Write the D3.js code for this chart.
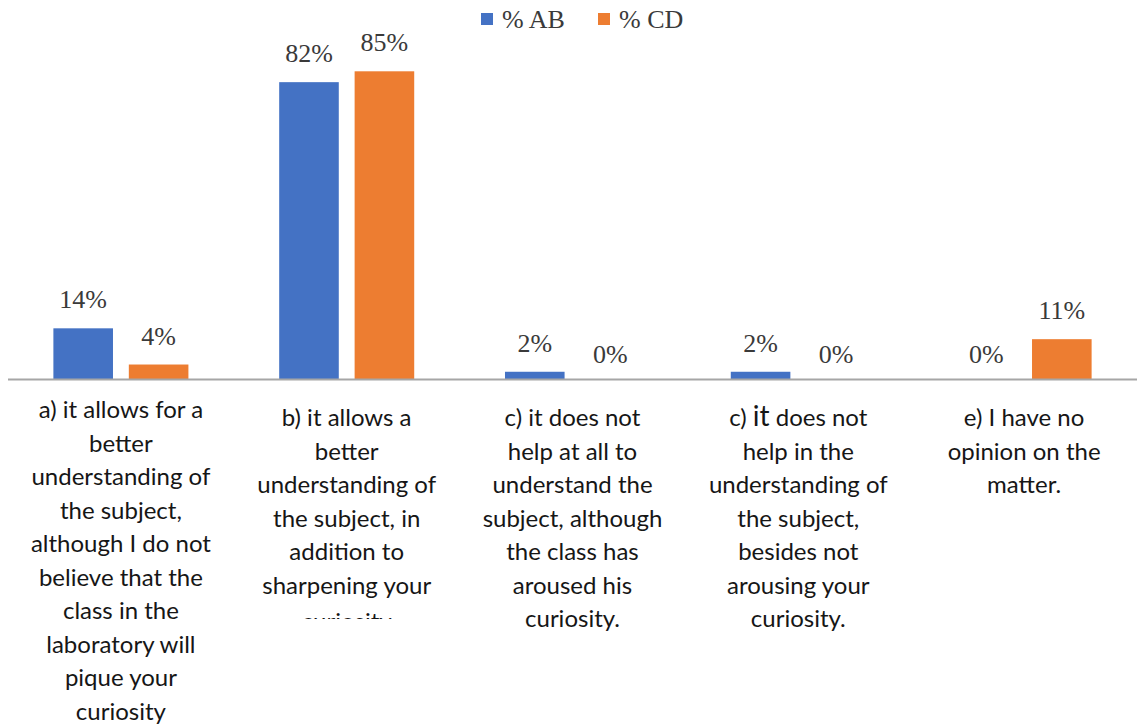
<!DOCTYPE html>
<html>
<head>
<meta charset="utf-8">
<script src="https://cdn.jsdelivr.net/npm/d3@7"></script>
<style>
  html, body { margin: 0; padding: 0; background: #ffffff; }
  svg { display: block; }
</style>
</head>
<body>
<svg id="chart" width="1146" height="727"></svg>
<script>
// Survey answers: share of respondents per option, for the two groups
const categories = ["a", "b", "c", "d", "e"];
const seriesNames = ["% AB", "% CD"];
const valuesAB = [14, 82, 2, 2, 0];
const valuesCD = [4, 85, 0, 0, 11];
const valueLabelsAB = ["14%", "82%", "2%", "2%", "0%"];
const valueLabelsCD = ["4%", "85%", "0%", "0%", "11%"];

// Wrapped answer texts under each group
const categoryLines = [
  ["a) it allows for a", "better", "understanding of", "the subject,", "although I do not", "believe that the", "class in the", "laboratory will", "pique your", "curiosity"],
  ["b) it allows a", "better", "understanding of", "the subject, in", "addition to", "sharpening your", "curiosity"],
  ["c) it does not", "help at all to", "understand the", "subject, although", "the class has", "aroused his", "curiosity."],
  ["c) it does not", "help in the", "understanding of", "the subject,", "besides not", "arousing your", "curiosity."],
  ["e) I have no", "opinion on the", "matter."]
];

const colors = { "% AB": "#4472C4", "% CD": "#ED7D31" };

const svg = d3.select("#chart");
const W = 1146, H = 727;
const baseY = 379;

const x = d3.scaleBand()
  .domain(categories)
  .range([8, 1137])
  .paddingInner(0.402)
  .paddingOuter(0.201);

const xs = d3.scaleBand()
  .domain(seriesNames)
  .range([0, x.bandwidth()])
  .paddingInner(0.21);

const y = d3.scaleLinear().domain([0, 100]).range([baseY, 17]);

const rows = categories.map((c, i) => ({
  cat: c,
  items: [
    { s: "% AB", v: valuesAB[i], label: valueLabelsAB[i] },
    { s: "% CD", v: valuesCD[i], label: valueLabelsCD[i] }
  ]
}));

const groups = svg.append("g").selectAll("g")
  .data(rows)
  .join("g")
  .attr("transform", d => `translate(${x(d.cat)},0)`);

groups.selectAll("rect")
  .data(d => d.items.filter(it => it.v > 0))
  .join("rect")
  .attr("x", d => xs(d.s))
  .attr("y", d => y(d.v))
  .attr("width", xs.bandwidth())
  .attr("height", d => y(0) - y(d.v))
  .attr("fill", d => colors[d.s]);

groups.selectAll("text.val")
  .data(d => d.items)
  .join("text")
  .attr("class", "val")
  .attr("x", d => xs(d.s) + xs.bandwidth() / 2)
  .attr("y", d => y(d.v) - (d.v > 0 ? 20 : 16))
  .attr("text-anchor", "middle")
  .attr("font-family", "'Liberation Serif', 'Times New Roman', serif")
  .attr("font-size", 26)
  .attr("fill", "#3a3a3a")
  .text(d => d.label);

// Category axis line
svg.append("line")
  .attr("x1", 8).attr("x2", 1137)
  .attr("y1", baseY + 0.5).attr("y2", baseY + 0.5)
  .attr("stroke", "#a6a6a6")
  .attr("stroke-width", 2);

// Answer texts; the second group's last line is cut off at the bottom of its box
const defs = svg.append("defs");
defs.append("clipPath").attr("id", "clipB")
  .append("rect").attr("x", 0).attr("y", 0).attr("width", W).attr("height", 619);

const lineH = 33.5;
const labelFont = "Lato, 'Open Sans', sans-serif";

categories.forEach((c, i) => {
  const cx = x(c) + x.bandwidth() / 2;
  const n = categoryLines[i].length;
  // long answers are pushed up so that they still fit the chart area
  const firstBase = Math.min(426, 753 - n * lineH);
  const t = svg.append("text")
    .attr("text-anchor", "middle")
    .attr("font-family", labelFont)
    .attr("font-size", 24)
    .attr("fill", "#161616")
    .attr("clip-path", c === "b" ? "url(#clipB)" : null);
  categoryLines[i].forEach((ln, j) => {
    const ts = t.append("tspan")
      .attr("x", cx)
      .attr("y", firstBase + j * lineH + (c === "b" && j === n - 1 ? 3 : 0));
    if (c === "d" && j === 0) {
      ts.append("tspan").text("c) ");
      ts.append("tspan").attr("font-size", 28).text("it");
      ts.append("tspan").text(" does not");
    } else {
      ts.text(ln);
    }
  });
});

// Legend
const legend = svg.append("g");
const legendX = [481, 598];
seriesNames.forEach((s, i) => {
  legend.append("rect")
    .attr("x", legendX[i]).attr("y", 13)
    .attr("width", 12).attr("height", 12)
    .attr("fill", colors[s]);
  legend.append("text")
    .attr("x", legendX[i] + 21).attr("y", 28)
    .attr("font-family", "'Liberation Serif', 'Times New Roman', serif")
    .attr("font-size", 26)
    .attr("fill", "#3a3a3a")
    .text(s);
});
</script>
</body>
</html>
